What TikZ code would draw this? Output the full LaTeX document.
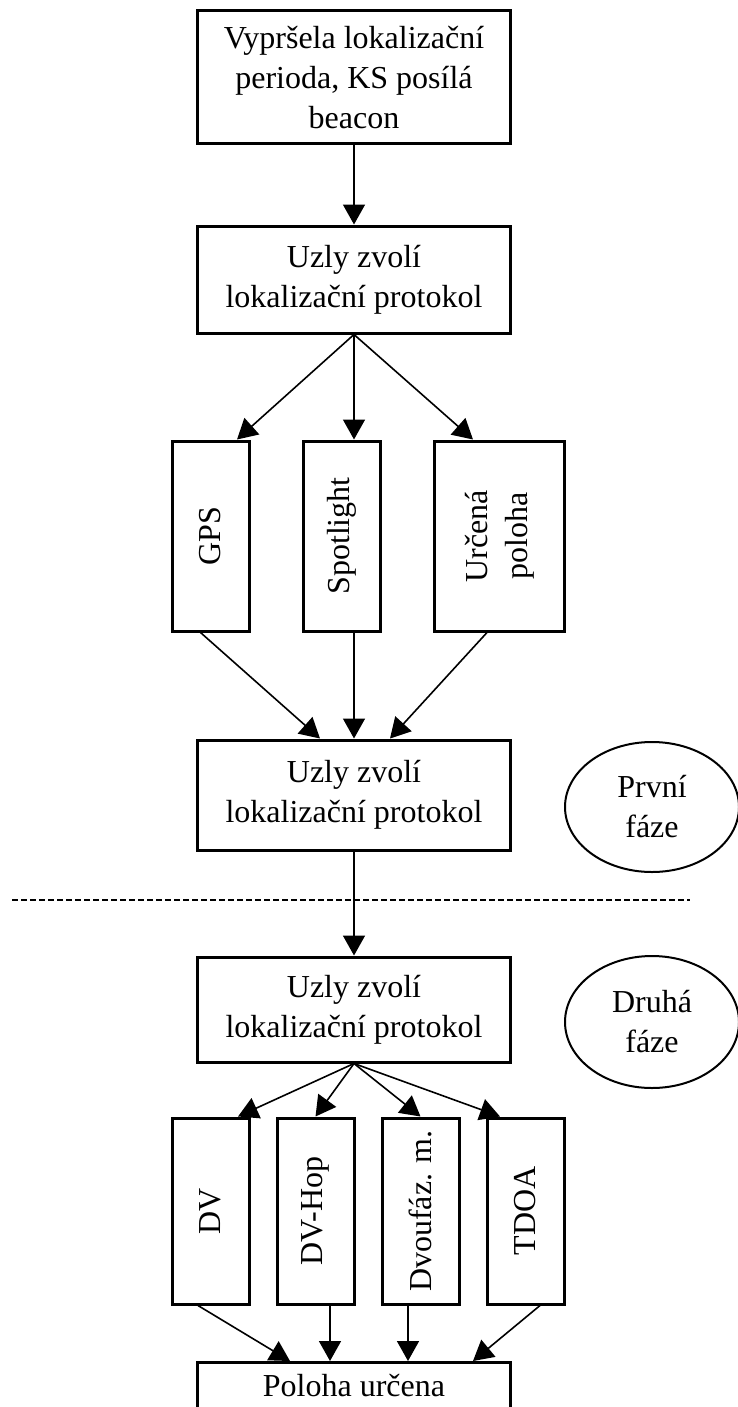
\documentclass[tikz,border=0pt]{standalone}
\usepackage{fontspec}
\setmainfont{Liberation Serif}
\usepackage{graphicx}
\usetikzlibrary{arrows.meta,shapes.geometric,positioning}

\begin{document}
\begin{tikzpicture}[x=1pt,y=-1pt,
  font=\fontsize{32}{40}\selectfont,
  box/.style={draw,line width=3pt,align=center,minimum width=313pt,inner sep=0pt},
  vbox/.style={draw,line width=3pt,minimum height=190pt,inner sep=0pt},
  phase/.style={draw,ellipse,line width=2pt,align=center,minimum width=174pt,minimum height=130pt,inner sep=0pt},
  link/.style={line width=1.6pt,-{Triangle[width=22pt,length=20pt]}}]

\useasboundingbox (0,0) rectangle (738,1407);

\node[box,minimum height=133pt] (start) at (354,77.5) {Vypršela lokalizační\\perioda, KS posílá\\beacon};
\node[box,minimum height=107pt] (choose1) at (354,279.5) {Uzly zvolí\\lokalizační protokol};

\node[vbox,minimum width=77pt] (gps) at (210.5,536) {\rotatebox{90}{GPS}};
\node[vbox,minimum width=77pt] (spot) at (341.5,536) {\rotatebox{90}{Spotlight}};
\node[vbox,minimum width=130pt] (known) at (499,536) {\rotatebox{90}{\begin{tabular}{@{}c@{}}Určená\\poloha\end{tabular}}};

\node[box,minimum height=110pt] (choose2) at (354,795) {Uzly zvolí\\lokalizační protokol};
\node[phase] (phase1) at (652,807) {První\\fáze};

\coordinate (sepL) at (12,900);
\coordinate (sepR) at (690,900);

\node[box,minimum height=105pt] (choose3) at (354,1009.5) {Uzly zvolí\\lokalizační protokol};
\node[phase,minimum height=132pt] (phase2) at (652,1022) {Druhá\\fáze};

\node[vbox,minimum width=77pt,minimum height=186pt] (dv) at (210.5,1211) {\rotatebox{90}{DV}};
\node[vbox,minimum width=77pt,minimum height=186pt] (dvhop) at (315.5,1211) {\rotatebox{90}{DV-Hop}};
\node[vbox,minimum width=77pt,minimum height=186pt] (twophase) at (420.5,1211) {\rotatebox{90}{Dvoufáz. m.}};
\node[vbox,minimum width=77pt,minimum height=186pt] (tdoa) at (525.5,1211) {\rotatebox{90}{TDOA}};

\node[box,minimum height=46pt,anchor=north] (done) at (354,1361) {Poloha určena};

\draw[link] (start) -- (choose1);
\draw[link] (choose1.south) -- ([xshift=26.5pt]gps.north);
\draw[link] (choose1.south) -- (choose1.south |- spot.north);
\draw[link] (choose1.south) -- ([xshift=-26pt]known.north);
\draw[link] ([xshift=-10pt]gps.south) -- ([xshift=-34pt]choose2.north);
\draw[link] (spot.south -| choose2.north) -- (choose2.north);
\draw[link] ([xshift=-12pt]known.south) -- ([xshift=36pt]choose2.north);
\draw[link] (choose2) -- (choose3);

\draw[line width=1.5pt,dash pattern=on 6pt off 3pt] (sepL) -- (sepR);

\draw[link] (choose3.south) -- ([xshift=27.5pt]dv.north);
\draw[link] (choose3.south) -- (dvhop.north);
\draw[link] (choose3.south) -- (twophase.north);
\draw[link] (choose3.south) -- ([xshift=-25.5pt]tdoa.north);
\draw[link] ([xshift=-12.5pt]dv.south) -- ([xshift=-64pt]done.north);
\draw[link] ([xshift=14.5pt]dvhop.south) -- ([xshift=14.5pt]dvhop.south |- done.north);
\draw[link] ([xshift=-12.5pt]twophase.south) -- ([xshift=-12.5pt]twophase.south |- done.north);
\draw[link] ([xshift=14.5pt]tdoa.south) -- ([xshift=119pt]done.north);

\end{tikzpicture}
\end{document}
